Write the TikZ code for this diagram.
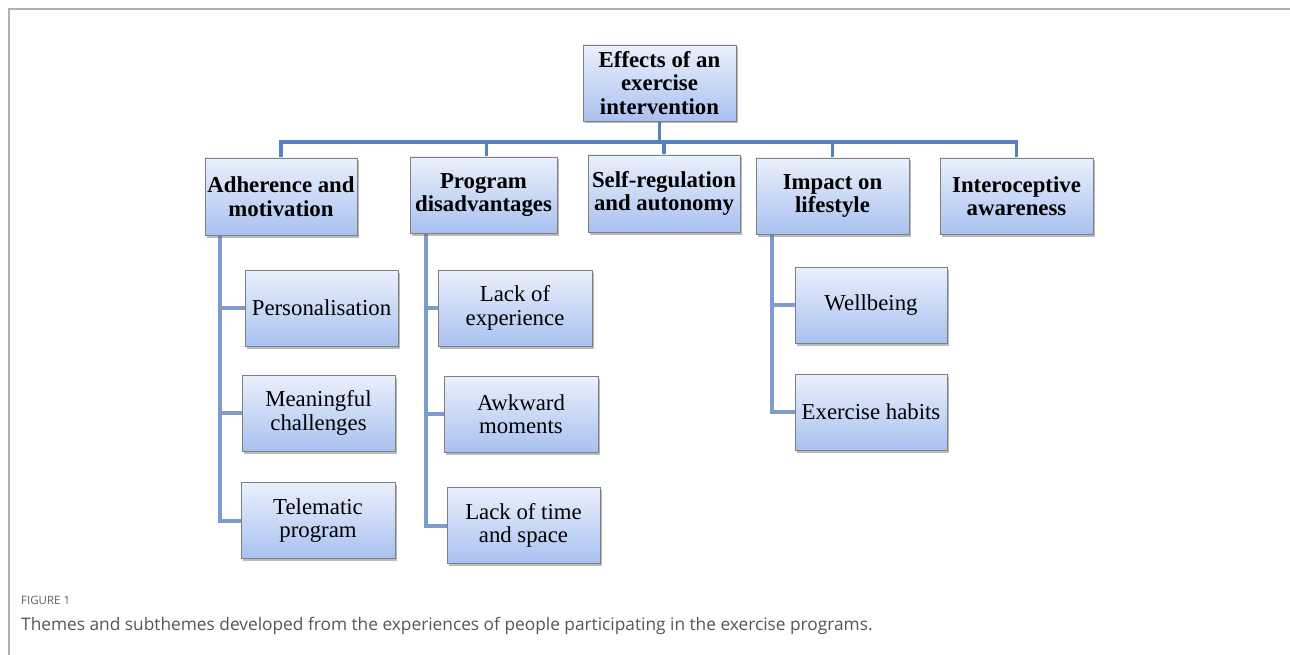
\documentclass[tikz,border=0pt]{standalone}
\usepackage{fontspec}
\setmainfont{Liberation Serif}
\newfontfamily\capfont{Open Sans}
\usetikzlibrary{shadows,backgrounds,calc}
\definecolor{boxtop}{HTML}{EAF0FC}
\definecolor{boxbot}{HTML}{A9C1F0}
\definecolor{boxedge}{HTML}{7F7F7F}
\definecolor{buscol}{HTML}{5682C3}
\definecolor{spinecol}{HTML}{7E9CCB}
\definecolor{framecol}{HTML}{B0B0B0}
\definecolor{captxt}{HTML}{555555}
\definecolor{figtxt}{HTML}{606060}
\tikzset{
  box/.style={draw=boxedge, line width=0.8pt, top color=boxtop, bottom color=boxbot,
    align=center, inner sep=0pt, font=\fontsize{22.8}{23.5}\selectfont,
    drop shadow={shadow xshift=2pt, shadow yshift=-2.5pt, opacity=0.45, fill=black!60}},
  theme/.style={box, font=\bfseries\fontsize{22.8}{23.5}\selectfont},
  bus/.style={draw=buscol, line width=3.5pt},
  spine/.style={draw=spinecol, line width=4pt},
  frame/.style={draw=framecol, line width=1.1pt}
}
\begin{document}
\begin{tikzpicture}[x=1pt,y=-1pt]
\useasboundingbox (0,0) rectangle (1290,655);
\coordinate (fa) at (9,655);
\coordinate (fb) at (9,9);
\coordinate (fc) at (1290,9);
\draw[frame] (fa) -- (fb) -- (fc);

\node[theme, minimum width=153, minimum height=76] (root) at (659.5,83) {Effects of an\\exercise\\intervention};

\node[theme, minimum width=152, minimum height=77] (adh) at (281,196.5) {Adherence and\\motivation};
\node[theme, minimum width=147, minimum height=76] (prog) at (483.5,195) {Program\\disadvantages};
\node[theme, minimum width=152, minimum height=77] (self) at (664,193.5) {Self-regulation\\and autonomy};
\node[theme, minimum width=153, minimum height=76] (imp) at (832.5,196) {Impact on\\lifestyle};
\node[theme, minimum width=153, minimum height=76] (intero) at (1016.5,196) {Interoceptive\\awareness};

\node[box, minimum width=153, minimum height=76] (pers) at (321.5,308) {Personalisation};
\node[box, minimum width=153, minimum height=76] (mean) at (318.5,413) {Meaningful\\challenges};
\node[box, minimum width=154, minimum height=76] (tele) at (318,520.5) {Telematic\\program};

\node[box, minimum width=154, minimum height=76] (lexp) at (515,308) {Lack of\\experience};
\node[box, minimum width=154, minimum height=76] (awk) at (521,414) {Awkward\\moments};
\node[box, minimum width=153, minimum height=76] (ltime) at (523.5,525.5) {Lack of time\\and space};

\node[box, minimum width=152, minimum height=76] (well) at (871,305) {Wellbeing};
\node[box, minimum width=152, minimum height=76] (habit) at (871,412) {Exercise habits};

\begin{scope}[on background layer]
\coordinate (busy) at (0,142);
\draw[bus] (root.south) -- (root.south |- busy);
\draw[bus] (adh.north) |- (root.south |- busy) -| (intero.north);
\draw[bus] ([xshift=3pt]prog.north) -- ([xshift=3pt]prog.north |- busy);
\draw[bus] (self.north) -- (self.north |- busy);
\draw[bus] (imp.north) -- (imp.north |- busy);

\coordinate (s1) at ($(adh.south west)+(15,0)$);
\draw[spine] (s1) |- (tele.west);
\draw[spine] (pers.west) -- (pers.west -| s1);
\draw[spine] (mean.west) -- (mean.west -| s1);

\coordinate (s2) at ($(prog.south west)+(16,0)$);
\draw[spine] (s2) |- (ltime.west);
\draw[spine] (lexp.west) -- (lexp.west -| s2);
\draw[spine] (awk.west) -- (awk.west -| s2);

\coordinate (s3) at ($(imp.south west)+(16,0)$);
\draw[spine] (s3) |- (habit.west);
\draw[spine] (well.west) -- (well.west -| s3);
\end{scope}

\node[anchor=west, inner sep=0pt, text=figtxt, font=\capfont\fontsize{11.5}{13}\selectfont] (figlab) at (21,600) {FIGURE 1};
\node[anchor=west, inner sep=0pt, text=captxt, font=\capfont\fontsize{17.3}{19}\selectfont] (cap) at (21,626) {Themes and subthemes developed from the experiences of people participating in the exercise programs.};
\end{tikzpicture}
\end{document}
